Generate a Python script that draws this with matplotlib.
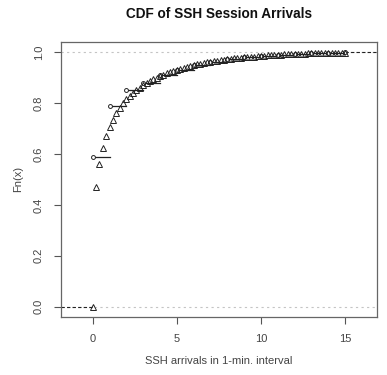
import matplotlib
matplotlib.use("Agg")
import matplotlib.pyplot as plt

plt.rcParams["font.family"] = ["Liberation Sans", "DejaVu Sans"]

# empirical CDF of the observed counts (jumps at integers)
ecdf_x = [0, 1, 2, 3, 4, 5, 6, 7, 8, 9, 10, 11, 12, 13, 14, 15]
ecdf_y = [0.587, 0.79, 0.853, 0.877, 0.909, 0.93, 0.95, 0.963, 0.973,
          0.98, 0.985, 0.989, 0.992, 0.995, 0.997, 1.0]

# fitted CDF evaluated every 0.2 (triangles)
fit_x = [i / 5 for i in range(76)]
fit_y = [0.0, 0.47, 0.56, 0.625, 0.67, 0.705, 0.735, 0.76, 0.782, 0.80,
         0.815, 0.828, 0.84, 0.851, 0.861, 0.87, 0.878, 0.886, 0.893, 0.90,
         0.906, 0.912, 0.917, 0.922, 0.927, 0.931, 0.935, 0.939, 0.943, 0.946,
         0.949, 0.952, 0.955, 0.958, 0.960, 0.963, 0.965, 0.967, 0.969, 0.971,
         0.973, 0.974, 0.976, 0.977, 0.979, 0.980, 0.981, 0.982, 0.983, 0.984,
         0.985, 0.986, 0.987, 0.988, 0.989, 0.990, 0.9905, 0.991, 0.992, 0.9925,
         0.993, 0.9935, 0.994, 0.9945, 0.995, 0.9955, 0.996, 0.9963, 0.9966, 0.9969,
         0.9972, 0.9975, 0.9978, 0.998, 0.9983, 0.9985]

x_ticks = [0, 5, 10, 15]
y_ticks = [0.0, 0.2, 0.4, 0.6, 0.8, 1.0]

XLIM = (-1.9, 16.9)
YLIM = (-0.04, 1.04)
INK = "#222222"
TXT = "#444444"

fig = plt.figure(figsize=(3.87, 3.75), dpi=100)
ax = fig.add_axes([0.157, 0.155, 0.817, 0.733])

# reference lines at 0 and 1
for yv in (0, 1):
    ax.axhline(yv, color="#c4c4c4", lw=0.8, ls=(0, (2, 3)), zorder=1)

# step function: left tail, horizontal segments, right tail
ax.plot([XLIM[0], ecdf_x[0]], [0, 0], color=INK, lw=0.8, ls=(0, (3, 2)), zorder=2)
for i in range(len(ecdf_x) - 1):
    ax.plot([ecdf_x[i], ecdf_x[i + 1]], [ecdf_y[i], ecdf_y[i]],
            color=INK, lw=0.9, zorder=2)
ax.plot([ecdf_x[-1], XLIM[1]], [ecdf_y[-1], ecdf_y[-1]],
        color=INK, lw=0.8, ls=(0, (3, 2)), zorder=2)
ax.plot(ecdf_x, ecdf_y, "o", ms=2.8, mfc="white", mec=INK, mew=0.7, zorder=3)

ax.plot(fit_x, fit_y, "^", ms=4.5, mfc="none", mec=INK, mew=0.7, zorder=4)

ax.set_xlim(*XLIM)
ax.set_ylim(*YLIM)
ax.set_xticks(x_ticks)
ax.set_yticks(y_ticks)
ax.set_xticklabels([str(v) for v in x_ticks])
ax.set_yticklabels([f"{v:.1f}" for v in y_ticks], rotation=90, va="center")
ax.tick_params(direction="out", length=5, width=0.8, colors="#555555",
               labelcolor=TXT, labelsize=8, pad=7)
for s in ax.spines.values():
    s.set_color("#666666")
    s.set_linewidth(0.9)

ax.set_xlabel("SSH arrivals in 1-min. interval", fontsize=8, color=TXT, labelpad=9)
ax.set_ylabel("Fn(x)", fontsize=8, color=TXT, labelpad=8)
ax.set_title("CDF of SSH Session Arrivals", fontsize=9.8, fontweight="bold",
             color="#111111", pad=17)

fig.savefig("out.png", dpi=100)
